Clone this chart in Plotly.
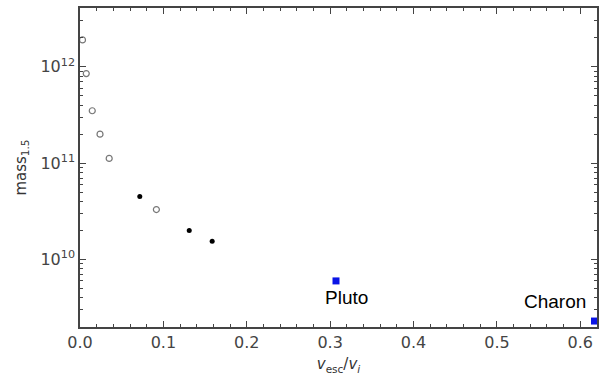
import plotly.graph_objects as go

# Data
open_x = [0.003, 0.0075, 0.0147, 0.024, 0.035, 0.0916]
open_y = [1.9e12, 8.5e11, 3.5e11, 2.0e11, 1.12e11, 3.3e10]
filled_x = [0.0717, 0.131, 0.1585]
filled_y = [4.5e10, 2.0e10, 1.55e10]
body_names = ["Pluto", "Charon"]
body_x = [0.307, 0.617]
body_y = [6.0e9, 2.3e9]

y_tickvals = [1e10, 1e11, 1e12]
y_ticktext = ["10<sup>10</sup>", "10<sup>11</sup>", "10<sup>12</sup>"]

fig = go.Figure()
fig.add_trace(go.Scatter(x=open_x, y=open_y, mode="markers",
                         marker=dict(symbol="circle-open", size=6, color="#777777",
                                     line=dict(width=1.2))))
fig.add_trace(go.Scatter(x=filled_x, y=filled_y, mode="markers",
                         marker=dict(symbol="circle", size=5, color="black")))
fig.add_trace(go.Scatter(x=body_x, y=body_y, mode="markers",
                         marker=dict(symbol="square", size=7, color="#0a14e6")))

label_font = dict(size=19, color="black", family="Liberation Sans")
fig.add_annotation(x=body_x[0], y=9.61, xref="x", yref="y",
                   text=body_names[0], showarrow=False, font=label_font,
                   xanchor="center", yanchor="middle", xshift=10)
fig.add_annotation(x=body_x[1], y=9.563, xref="x", yref="y",
                   text=body_names[1], showarrow=False, font=label_font,
                   xanchor="right", yanchor="middle", xshift=-7)

axis_common = dict(showline=True, linecolor="#444444", linewidth=1.5, mirror="allticks",
                   ticks="inside", tickcolor="#444444", showgrid=False, zeroline=False)

fig.update_xaxes(range=[0, 0.62], dtick=0.1, tick0=0, tickformat=".1f", ticklen=6,
                 tickfont=dict(size=16, color="#444444", family="DejaVu Sans"),
                 minor=dict(ticks="inside", dtick=0.02, ticklen=3, tickcolor="#444444"),
                 title=dict(text="<i>v</i><sub>esc</sub>/<i>v</i><sub><i>i</i></sub>",
                            font=dict(size=15, color="#333333", family="DejaVu Sans"),
                            standoff=8),
                 **axis_common)
fig.update_yaxes(type="log", range=[9.30, 12.61], tickvals=y_tickvals, ticktext=y_ticktext,
                 ticklen=6,
                 tickfont=dict(size=16, color="#444444", family="DejaVu Sans"),
                 minor=dict(ticks="inside", dtick="D1", ticklen=3, tickcolor="#444444"),
                 title=dict(text="mass<sub>1.5</sub>",
                            font=dict(size=15, color="#333333", family="DejaVu Sans"),
                            standoff=10),
                 **axis_common)

fig.update_layout(width=605, height=386, showlegend=False,
                  plot_bgcolor="white", paper_bgcolor="white",
                  margin=dict(l=80, r=7, t=6, b=59))

fig.write_html("out.html")
